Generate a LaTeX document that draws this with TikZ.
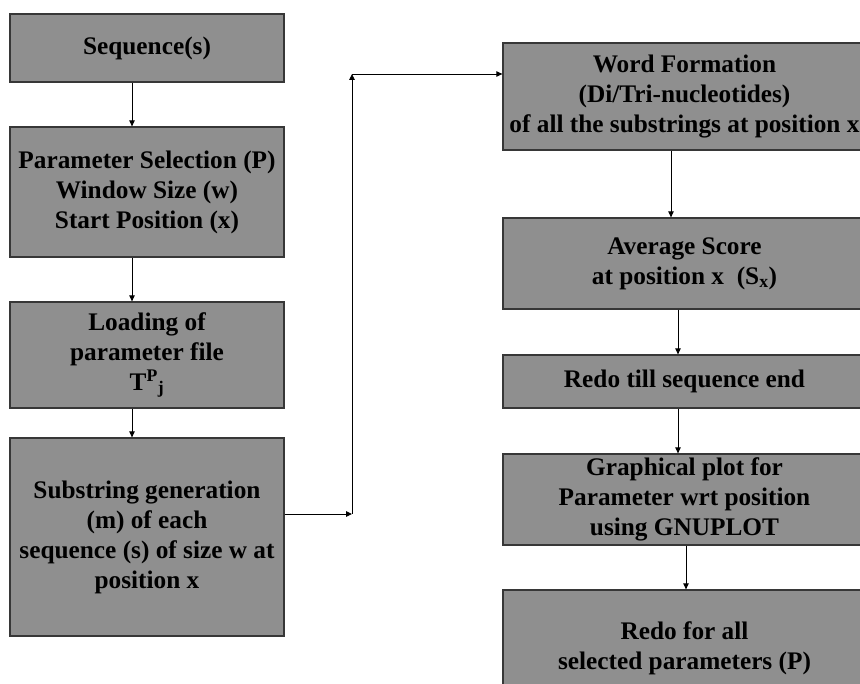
\documentclass[tikz,border=0pt]{standalone}
\usepackage{fontspec}
\setmainfont{Liberation Serif}
\usetikzlibrary{arrows.meta}
\definecolor{boxfill}{RGB}{143,143,143}
\definecolor{boxline}{RGB}{55,55,55}
\begin{document}
\begin{tikzpicture}[x=1pt,y=-1pt,
  box/.style={draw=boxline,line width=1.3pt,fill=boxfill,align=center,inner sep=0pt,
    font=\fontsize{25.3}{30}\selectfont\bfseries},
  lbox/.style={box,minimum width=274pt},
  rbox/.style={box,minimum width=363pt},
  arr/.style={line width=0.9pt,-{Triangle[length=6pt,width=5.5pt]}}]
\clip (0,0) rectangle (860,684);
\fill[white] (0,0) rectangle (860,684);
% left column
\node[lbox,minimum height=68pt] (seq) at (147,48) {Sequence(s)};
\node[lbox,minimum height=130pt] (par) at (147,192) {Parameter Selection (P)\\Window Size (w)\\Start Position (x)};
\node[lbox,minimum height=106pt] (load) at (147,355) {Loading of\\parameter file\\T\textsuperscript{P}\textsubscript{j}};
\node[lbox,minimum height=198pt] (sub) at (147,537) {Substring generation\\(m) of each\\ sequence (s) of size w at\\position x};
% right column
\node[rbox,minimum height=107pt] (word) at (684.5,96.5) {Word Formation\\(Di/Tri-nucleotides)\\of all the substrings at position x};
\node[rbox,minimum height=91pt] (avg) at (684.5,263.5) {Average Score\\at position x\ \ (S\textsubscript{x})};
\node[rbox,minimum height=53pt] (redo) at (684.5,381.5) {Redo till sequence end};
\node[rbox,minimum height=91pt] (graph) at (684.5,499.5) {Graphical plot for\\Parameter wrt position\\using GNUPLOT};
\node[rbox,minimum height=116pt] (redoall) at (684.5,648) {Redo for all\\selected parameters (P)};
% left arrows
\draw[arr] ([xshift=-15pt]seq.south) -- ([xshift=-15pt]par.north);
\draw[arr] ([xshift=-15pt]par.south) -- ([xshift=-15pt]load.north);
\draw[arr] ([xshift=-15pt]load.south) -- ([xshift=-15pt]sub.north);
% connector to right column
\coordinate (c1) at (352,514);
\coordinate (c2) at (352,74);
\draw[arr] (sub.east |- c1) -- (c1);
\draw[arr] (c1) -- (c2);
\draw[arr] (c2) -- (c2 -| word.west);
% right arrows
\draw[arr] ([xshift=-13.5pt]word.south) -- ([xshift=-13.5pt]avg.north);
\draw[arr] ([xshift=-6.5pt]avg.south) -- ([xshift=-6.5pt]redo.north);
\draw[arr] ([xshift=-6.5pt]redo.south) -- ([xshift=-6.5pt]graph.north);
\draw[arr] ([xshift=1.5pt]graph.south) -- ([xshift=1.5pt]redoall.north);
\end{tikzpicture}
\end{document}
